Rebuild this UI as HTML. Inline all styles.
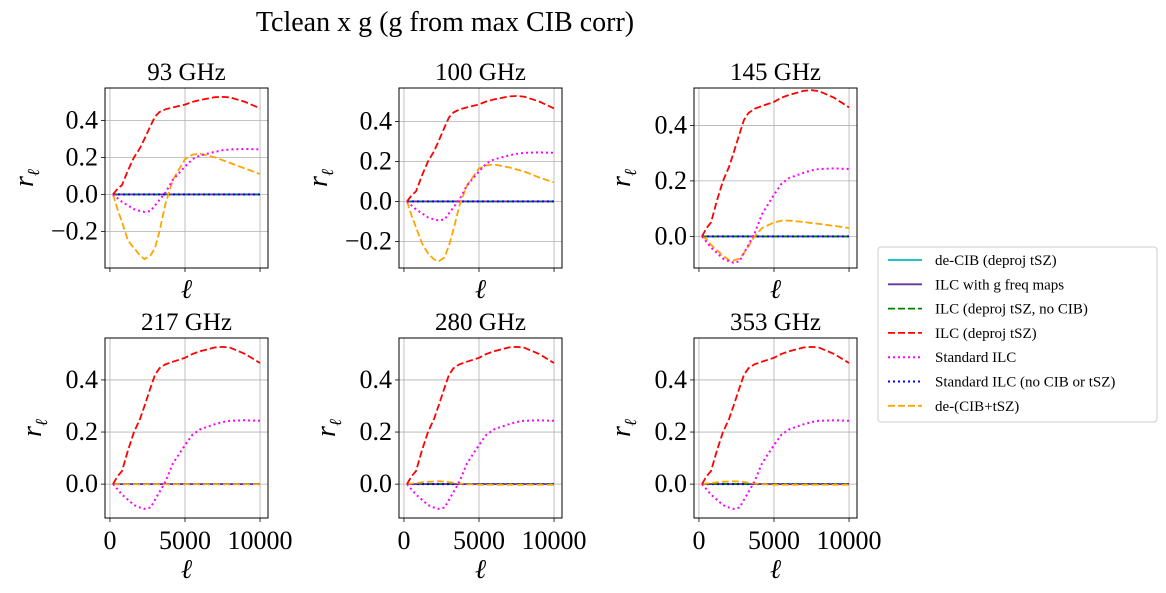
<!DOCTYPE html>
<html><head><meta charset="utf-8">
<style>
html,body{margin:0;padding:0;background:#fff;}
svg{display:block;font-family:"Liberation Serif","DejaVu Serif",serif;}
</style></head>
<body>
<svg id="fig" width="1166" height="593" viewBox="0 0 1166 593">
<text x="445" y="31" font-size="28" text-anchor="middle">Tclean x g (g from max CIB corr)</text>
<g id="panels"></g>
<g>
<rect x="878" y="247" width="279" height="175" rx="3" fill="#fff" stroke="#ccc" stroke-width="1"/>
<g id="legend-items"></g>
</g>
</svg>
<script>
// ---- data ----
const ell = [200,500,800,1200,1600,2000,2300,2700,3000,3300,3700,4200,5000,5500,6000,7000,7500,8000,9000,10000];
const redVals = [0,0.03,0.05,0.13,0.2,0.25,0.3,0.37,0.42,0.445,0.46,0.47,0.485,0.5,0.51,0.525,0.527,0.524,0.5,0.465];
const magVals = [0,-0.02,-0.04,-0.06,-0.08,-0.09,-0.095,-0.09,-0.06,-0.03,0.01,0.08,0.15,0.19,0.21,0.23,0.238,0.243,0.245,0.243];
const orange93 = [0,-0.08,-0.15,-0.25,-0.29,-0.33,-0.35,-0.33,-0.29,-0.2,-0.05,0.08,0.19,0.215,0.22,0.2,0.185,0.17,0.14,0.11];
const orange100 = [0,-0.07,-0.13,-0.21,-0.26,-0.29,-0.3,-0.28,-0.22,-0.14,-0.02,0.08,0.165,0.18,0.185,0.17,0.16,0.15,0.12,0.095];
const orange145 = [0,-0.01,-0.03,-0.05,-0.07,-0.085,-0.087,-0.08,-0.06,-0.035,0.0,0.03,0.05,0.057,0.057,0.052,0.048,0.045,0.038,0.03];
const orange217 = [0,0,0,0,0,0,0,0,0,0,0,0,0,0,0,0,0,0,0,0];
const orange280 = [0,0.002,0.004,0.007,0.009,0.01,0.011,0.01,0.008,0.005,0.002,0,-0.002,-0.002,-0.002,-0.002,-0.002,-0.002,-0.002,-0.002];
const zeroVals = [0,0,0,0,0,0,0,0,0,0,0,0,0,0,0,0,0,0,0,0];
const panelTitles = ["93 GHz","100 GHz","145 GHz","217 GHz","280 GHz","353 GHz"];
const orangeSets = [orange93,orange100,orange145,orange217,orange280,orange280];
const yLimits = [[-0.398,0.575],[-0.333,0.567],[-0.114,0.535],[-0.13,0.561],[-0.13,0.561],[-0.13,0.561]];
const yTicksSets = [[-0.2,0,0.2,0.4],[-0.2,0,0.2,0.4],[0,0.2,0.4],[0,0.2,0.4],[0,0.2,0.4],[0,0.2,0.4]];
const xTicks = [0,5000,10000];
const xLim = [-330,10530];
const legendLabels = ["de-CIB (deproj tSZ)","ILC with g freq maps","ILC (deproj tSZ, no CIB)","ILC (deproj tSZ)","Standard ILC","Standard ILC (no CIB or tSZ)","de-(CIB+tSZ)"];

const NS="http://www.w3.org/2000/svg";
function mk(tag,attrs,parent){const e=document.createElementNS(NS,tag);for(const k in attrs)e.setAttribute(k,attrs[k]);if(parent)parent.appendChild(e);return e;}
const styles=[
 {stroke:"#00bfbf",dash:null,w:1.8},
 {stroke:"#663399",dash:null,w:1.8},
 {stroke:"#008000",dash:"7,3",w:1.8},
 {stroke:"#ff0000",dash:"7,3",w:1.8},
 {stroke:"#ff00ff",dash:"2,3",w:2},
 {stroke:"#0000ff",dash:"2,3",w:2},
 {stroke:"#ffa500",dash:"7,3",w:1.8}
];
const boxes=[[105,88],[399,88],[694,88],[105,338],[399,338],[694,338]];
const BW=163, BH=180;
const root=document.getElementById('panels');
for(let p=0;p<6;p++){
  const [bx,by]=boxes[p];
  const [y0,y1]=yLimits[p];
  const X=v=>bx+(v-xLim[0])/(xLim[1]-xLim[0])*BW;
  const Y=v=>by+BH-(v-y0)/(y1-y0)*BH;
  const g=mk('g',{},root);
  
  
  const t=mk('text',{x:bx+BW/2,y:by-8,'font-size':25,'text-anchor':'middle'},g);t.textContent=panelTitles[p];
  
  
  xTicks.forEach(v=>{
    const l=mk('line',{x1:X(v),x2:X(v),y1:by,y2:by+BH,stroke:'#b0b0b0','stroke-width':0.8},g);
    
    
    mk('line',{x1:X(v),x2:X(v),y1:by+BH,y2:by+BH+4,stroke:'#000','stroke-width':0.8},g);
    if(p>=3){const tl=mk('text',{x:X(v),y:by+BH+31,'font-size':26,'text-anchor':'middle'},g);tl.textContent=String(v);
      
      }
  });
  yTicksSets[p].forEach(v=>{
    const l=mk('line',{x1:bx,x2:bx+BW,y1:Y(v),y2:Y(v),stroke:'#b0b0b0','stroke-width':0.8},g);
    
    
    mk('line',{x1:bx-4,x2:bx,y1:Y(v),y2:Y(v),stroke:'#000','stroke-width':0.8},g);
    const tl=mk('text',{x:bx-7,y:Y(v)+8,'font-size':26,'text-anchor':'end'},g);
    tl.textContent=(v<0?'\u2212':'')+Math.abs(v).toFixed(1);
    
    
  });
  const clip='clip'+p;
  const cp=mk('clipPath',{id:clip},g);mk('rect',{x:bx,y:by,width:BW,height:BH},cp);
  const series=[zeroVals,zeroVals,zeroVals,redVals,magVals,zeroVals,orangeSets[p]];
  const order=[0,1,2,5,6,4,3];
  order.forEach(si=>{
    const vals=series[si],s=styles[si];
    const pts=ell.map((e,i)=>X(e).toFixed(1)+','+Y(vals[i]).toFixed(1)).join(' ');
    const a={points:pts,fill:'none',stroke:s.stroke,'stroke-width':s.w,'clip-path':'url(#'+clip+')'};
    if(s.dash)a['stroke-dasharray']=s.dash;
    const pl=mk('polyline',a,g);
    
    
  });
  const fr=mk('rect',{x:bx,y:by,width:BW,height:BH,fill:'none',stroke:'#000','stroke-width':1},g);
  
  
  const yl=mk('text',{x:0,y:0,'font-size':28,'font-style':'italic','text-anchor':'middle',transform:`translate(${bx-(p===2||p>=3?64:72)},${by+BH/2}) rotate(-90)`},g);
  yl.innerHTML='r<tspan font-size="17" dy="6">ℓ</tspan>';
  
  
  const xl=mk('text',{x:bx+BW/2,y:by+BH+(p>=3?60:30),'font-size':27,'font-style':'italic','text-anchor':'middle'},g);
  xl.textContent='ℓ';
  
  
}
const li=document.getElementById('legend-items');
legendLabels.forEach((lab,i)=>{
  const y=260+i*24.3,s=styles[i];
  const g=mk('g',{},li);
  
  
  const a={x1:888,x2:922,y1:y,y2:y,stroke:s.stroke,'stroke-width':s.w};
  if(s.dash)a['stroke-dasharray']=s.dash;
  mk('line',a,g);
  const t=mk('text',{x:935,y:y+5,'font-size':15},g);t.textContent=lab;
});
</script>
</body></html>
